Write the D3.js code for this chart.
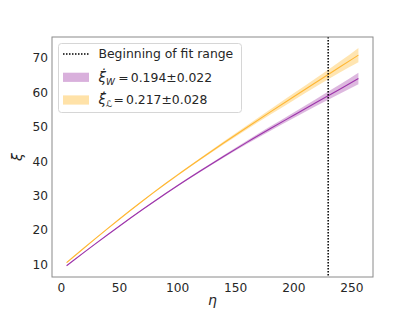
<!DOCTYPE html>
<html><head><meta charset="utf-8">
<script src="https://cdn.jsdelivr.net/npm/d3@7"></script>
<style>
html,body{margin:0;padding:0;background:#fff;}
svg{display:block;font-family:"DejaVu Sans",sans-serif;}
</style></head>
<body>
<svg id="chart" width="415" height="312"></svg>
<script>
const eta = [5,10,20,30,40,50,60,70,80,90,100,120,140,160,180,200,220,240,256];
const xiL = [10.5,11.93,14.76,17.56,20.33,23.06,25.74,28.37,30.94,33.44,35.88,40.64,45.28,49.82,54.28,58.68,63.04,67.38,70.85];
const xiW = [9.6,10.9,13.48,16.03,18.55,21.03,23.48,25.88,28.23,30.53,32.78,37.14,41.38,45.48,49.43,53.3,57.15,60.95,64.05];
const errL = [0.1,0.1,0.1,0.1,0.1,0.12,0.14,0.16,0.18,0.2,0.22,0.3,0.42,0.58,0.78,1.0,1.25,1.6,2.1];
const errW = [0.1,0.1,0.1,0.1,0.1,0.12,0.14,0.16,0.18,0.2,0.22,0.3,0.38,0.5,0.65,0.8,1.05,1.35,1.7];
const fitStart = 230;
const xTicks = [0,50,100,150,200,250];
const yTicks = [10,20,30,40,50,60,70];
const legendLabels = ["Beginning of fit range", "0.194±0.022", "0.217±0.028"];

const svg = d3.select("#chart");
const L = 52, R = 373, T = 37, B = 277;

const xmin = d3.min(eta), xmax = d3.max(eta);
const xpad = (xmax - xmin) * 0.05;
const lows = eta.map((d,i)=>Math.min(xiW[i]-errW[i], xiL[i]-errL[i]));
const highs = eta.map((d,i)=>Math.max(xiW[i]+errW[i], xiL[i]+errL[i]));
const ymin = d3.min(lows), ymax = d3.max(highs);
const ypad = (ymax - ymin) * 0.05;

const x = d3.scaleLinear().domain([xmin - xpad, xmax + xpad]).range([L, R]);
const y = d3.scaleLinear().domain([ymin - ypad, ymax + ypad]).range([B, T]);

const purple = "#9d34ab", purpleBand = "#d9b0dc";
const orange = "#ffb733", orangeBand = "#ffe2a8";

const area = (vals, errs) => d3.area().curve(d3.curveMonotoneX)
  .x((d,i)=>x(eta[i]))
  .y0((d,i)=>y(vals[i]-errs[i]))
  .y1((d,i)=>y(vals[i]+errs[i]))(eta);
const line = (vals) => d3.line().curve(d3.curveMonotoneX).x((d,i)=>x(eta[i])).y((d,i)=>y(vals[i]))(eta);

const g = svg.append("g");
g.append("path").attr("d", area(xiL, errL)).attr("fill", orangeBand).attr("opacity", 0.9);
g.append("path").attr("d", area(xiW, errW)).attr("fill", purpleBand).attr("opacity", 0.9);
g.append("path").attr("d", line(xiL)).attr("fill","none").attr("stroke", orange).attr("stroke-width",1.1);
g.append("path").attr("d", line(xiW)).attr("fill","none").attr("stroke", purple).attr("stroke-width",1.1);

// fit range line
g.append("line").attr("x1", x(fitStart)).attr("x2", x(fitStart)).attr("y1", T).attr("y2", B)
  .attr("stroke","#000").attr("stroke-width",1.5).attr("stroke-dasharray","1.5,1.5");

// axes frame
svg.append("rect").attr("x", L).attr("y", T).attr("width", R-L).attr("height", B-T)
  .attr("fill","none").attr("stroke","#8a8a8a").attr("stroke-width",1);

const xAxis = svg.append("g").attr("transform",`translate(0,${B})`)
  .call(d3.axisBottom(x).tickValues(xTicks).tickSize(0).tickPadding(6).tickFormat(d3.format("d")));
xAxis.select(".domain").remove();
xAxis.selectAll("text").attr("font-size","12.2px").attr("fill","#262626").attr("font-family","DejaVu Sans");

const yAxis = svg.append("g").attr("transform",`translate(${L},0)`)
  .call(d3.axisLeft(y).tickValues(yTicks).tickSize(0).tickPadding(4).tickFormat(d3.format("d")));
yAxis.select(".domain").remove();
yAxis.selectAll("text").attr("font-size","12.2px").attr("fill","#262626").attr("font-family","DejaVu Sans");

// axis labels
svg.append("text").attr("x", (L+R)/2).attr("y", 305).attr("text-anchor","middle")
  .attr("font-size","14px").attr("font-style","italic").attr("fill","#262626").text("η");
svg.append("text").attr("transform",`translate(22,${(T+B)/2}) rotate(-90)`).attr("text-anchor","middle")
  .attr("font-size","14px").attr("font-style","italic").attr("fill","#262626").text("ξ");

// legend
const lg = svg.append("g");
lg.append("rect").attr("x",58.5).attr("y",43.5).attr("width",183).attr("height",69).attr("rx",3)
  .attr("fill","#fff").attr("fill-opacity",0.85).attr("stroke","#d6d6d6").attr("stroke-width",1);
const rows = [54, 77.3, 100];
lg.append("line").attr("x1",63).attr("x2",89).attr("y1",rows[0]).attr("y2",rows[0])
  .attr("stroke","#000").attr("stroke-width",1.5).attr("stroke-dasharray","1.5,1.5");
lg.append("rect").attr("x",63).attr("y",rows[1]-4.6).attr("width",26).attr("height",9.2).attr("fill",purpleBand);
lg.append("rect").attr("x",63).attr("y",rows[2]-4.6).attr("width",26).attr("height",9.2).attr("fill",orangeBand);

const fs = "12.4px";
lg.append("text").attr("x",98.5).attr("y",rows[0]+4.4).attr("font-size",fs).attr("fill","#262626").text(legendLabels[0]);

function mathEntry(yc, sub, subFont, subItalic, eqX, val){
  const t = lg.append("text").attr("y", yc+4.4).attr("font-size", fs).attr("fill","#262626");
  t.append("tspan").attr("x",98.5).attr("font-style","italic").attr("font-size","13.5px").text("ξ̇");
  t.append("tspan").attr("dy",3).attr("font-size","9px").attr("font-style", subItalic ? "italic" : "normal")
    .attr("font-family", subFont).text(sub);
  t.append("tspan").attr("x",eqX).attr("dy",-3).text("=");
  t.append("tspan").attr("x",eqX+12.5).text(val);
}
mathEntry(rows[1], "W", "DejaVu Sans", true, 118.3, legendLabels[1]);
mathEntry(rows[2], "ℒ", "DejaVu Sans", false, 113.5, legendLabels[2]);
</script>
</body></html>
